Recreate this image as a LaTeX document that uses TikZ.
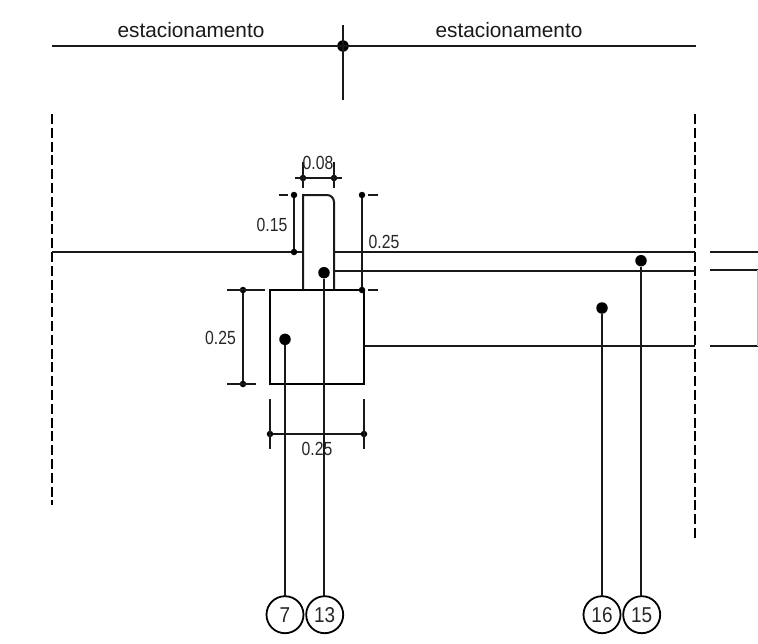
\documentclass[tikz,border=0pt]{standalone}
\usepackage{fontspec}
\setmainfont{Liberation Sans}
\tikzset{
  ln/.style={line width=2pt,black!90},
  dashln/.style={line width=2.4pt,black,dash pattern=on 10pt off 3.8pt},
  bigdot/.style={circle,fill=black,inner sep=0pt,minimum size=11.5pt},
  smalldot/.style={circle,fill=black,inner sep=0pt,minimum size=6.5pt},
  callout/.style={circle,draw=black,line width=1.8pt,inner sep=0pt,outer sep=0pt,minimum size=37pt},
  calltext/.style={inner sep=0pt,anchor=base,font=\fontsize{21.5}{22}\selectfont,xscale=.88,text=black!85},
  dimtext/.style={inner sep=0pt,font=\fontsize{19}{19}\selectfont,xscale=.83,text=black!85},
  stationtext/.style={inner sep=0pt,font=\fontsize{20.8}{21}\selectfont,text=black!90}
}
\begin{document}
\begin{tikzpicture}[x=1pt,y=-1pt]
\useasboundingbox (0,0) rectangle (758,643);
% top axis
\coordinate (axL) at (52,46); \coordinate (axR) at (696,46);
\coordinate (crT) at (343,25); \coordinate (crB) at (343,100);
\node[bigdot] (cross) at (343,46) {};
\draw[ln] (axL) -- (axR);
\draw[ln] (crT) -- (crB);
\node[stationtext] (st1) at (191,30.5) {estacionamento};
\node[stationtext] (st2) at (509,30) {estacionamento};
% dashed boundaries
\coordinate (dLt) at (52,114); \coordinate (dLb) at (52,505);
\coordinate (dRt) at (695,114); \coordinate (dRb) at (695,540);
\draw[dashln] (dLt) -- (dLb);
\draw[dashln] (dRt) -- (dRb);
% stem
\draw[ln] (303,290) -- (303,195) -- (327,195) to[out=0,in=90] (334,202) -- (334,290);
% box
\node[draw=black,line width=2pt,outer sep=0pt,minimum width=94pt,minimum height=94pt,inner sep=0pt,anchor=north west] (box) at (270,290) {};
% slab lines
\coordinate (a1) at (52,252); \coordinate (a2) at (303,252);
\coordinate (b1) at (334,252); \coordinate (b2) at (695,252);
\coordinate (c1) at (334,271); \coordinate (c2) at (695,271);
\coordinate (d1) at (364,346); \coordinate (d2) at (695,346);
\draw[ln] (a1) -- (a2);
\draw[ln] (b1) -- (b2);
\draw[ln] (c1) -- (c2);
\draw[ln] (d1) -- (d2);
% right stubs
\coordinate (e1) at (709.5,252); \coordinate (e2) at (758,252);
\coordinate (f1) at (709.5,270); \coordinate (f2) at (757.5,270);
\coordinate (g1) at (709.5,346); \coordinate (g2) at (758,346);
\draw[ln] (e1) -- (e2);
\draw[ln] (f1) -- (f2);
\draw[ln] (g1) -- (g2);
\draw[line width=.8pt,black!25] (f2) -- (757.5,346);
% dimension 0.08
\node[smalldot] (d08a) at (303,178) {};
\node[smalldot] (d08b) at (334,178) {};
\coordinate (d08l) at (295,178); \coordinate (d08r) at (342,178);
\draw[ln] (d08l) -- (d08r);
\draw[ln] (303,162) -- (303,188);
\draw[ln] (334,162) -- (334,188);
\node[dimtext] (t08) at (318,163) {0.08};
% dimension 0.15
\node[smalldot] (d15a) at (294,195) {};
\node[smalldot] (d15b) at (294,252) {};
\draw[ln] (d15a) -- (d15b);
\draw[ln] (279,195) -- (288,195);
\node[dimtext] (t15) at (272,225) {0.15};
% dimension 0.25 right
\node[smalldot] (dra) at (362,195) {};
\node[smalldot] (drb) at (362,290) {};
\draw[ln] (dra) -- (drb);
\draw[ln] (368,195) -- (378,195);
\draw[ln] (368,290) -- (378,290);
\node[dimtext] (tr) at (384,242) {0.25};
% dimension 0.25 left
\node[smalldot] (dla) at (243,290) {};
\node[smalldot] (dlb) at (243,384) {};
\draw[ln] (dla) -- (dlb);
\draw[ln] (227,290) -- (265,290);
\draw[ln] (227,384) -- (256,384);
\node[dimtext] (tl) at (220.5,338) {0.25};
% dimension 0.25 bottom
\node[smalldot] (dba) at (270,434) {};
\node[smalldot] (dbb) at (364,434) {};
\draw[ln] (dba) -- (dbb);
\draw[ln] (270,399) -- (270,449);
\draw[ln] (364,399) -- (364,449);
\node[dimtext] (tb) at (317,449) {0.25};
% callouts
\node[bigdot] (p7) at (285,339.3) {};
\node[bigdot] (p13) at (324,272.7) {};
\node[bigdot] (p16) at (602,308) {};
\node[bigdot] (p15) at (641,260.7) {};
\node[callout] (c7) at (285,614.7) {};
\node[callout] (c13) at (324.7,614.7) {};
\node[callout] (c16) at (602,614.7) {};
\node[callout] (c15) at (641.7,614.7) {};
\node[calltext] at (285,622) {7};
\node[calltext] at (324.7,622) {13};
\node[calltext] at (602,622) {16};
\node[calltext] at (641.7,622) {15};
\draw[ln] (p7) -- (285,596.2);
\draw[ln] (p13) -- (324,596.2);
\draw[ln] (p16) -- (c16);
\draw[ln] (p15) -- (641,596.2);
\end{tikzpicture}
\end{document}
